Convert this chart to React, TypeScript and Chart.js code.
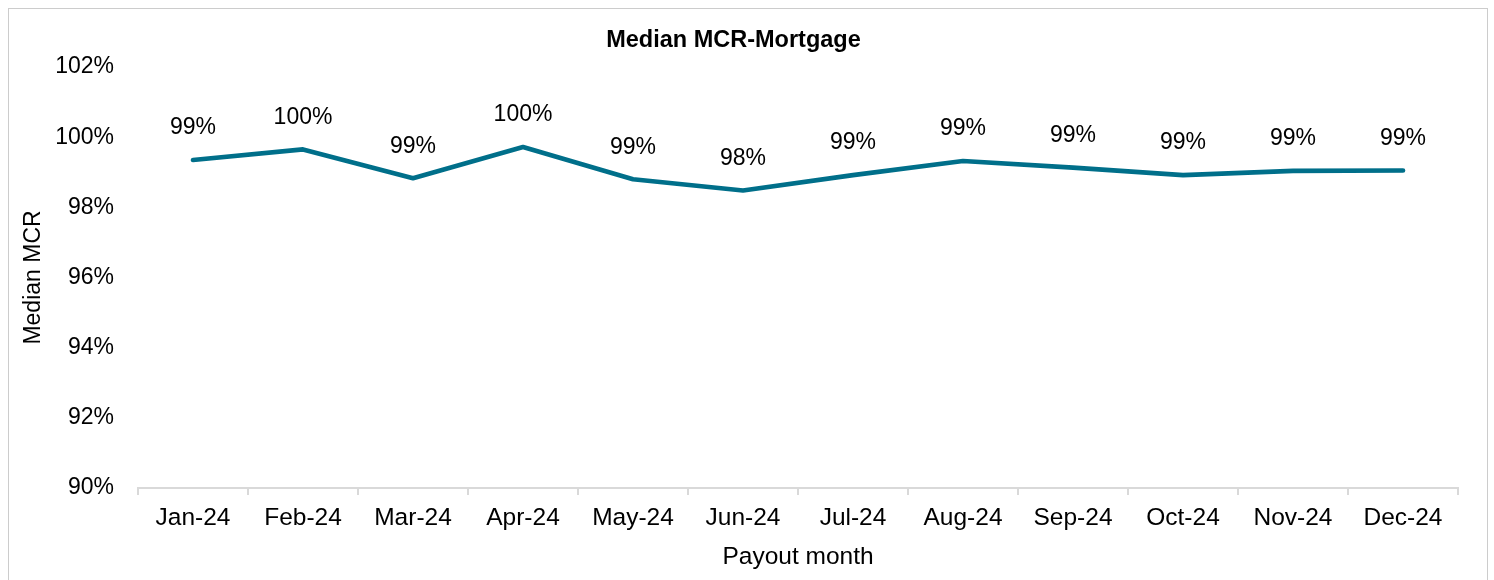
import React, { useEffect, useRef } from "react";
import { Chart, registerables } from "chart.js";

Chart.register(...registerables);

const categories = ["Jan-24", "Feb-24", "Mar-24", "Apr-24", "May-24", "Jun-24", "Jul-24", "Aug-24", "Sep-24", "Oct-24", "Nov-24", "Dec-24"];
const medianMcr = [99.35, 99.65, 98.83, 99.72, 98.8, 98.48, 98.92, 99.32, 99.13, 98.92, 99.04, 99.05];
const yMin = 90;
const yMax = 102;
const yStep = 2;

const FONT = "'Liberation Sans', Arial, sans-serif";
const SIZE = 23;
const XSIZE = 24.5;

const labelPlugin = {
  id: "pointLabels",
  afterDatasetsDraw(chart: any) {
    const ctx = chart.ctx;
    const meta = chart.getDatasetMeta(0);
    const data = chart.data.datasets[0].data as number[];
    ctx.save();
    ctx.font = `${SIZE}px ${FONT}`;
    ctx.fillStyle = "#000";
    ctx.textAlign = "center";
    ctx.textBaseline = "middle";
    meta.data.forEach((pt: any, i: number) => {
      ctx.fillText(Math.round(data[i]) + "%", pt.x, pt.y - 32);
    });
    ctx.restore();
  },
};

export default function App() {
  const ref = useRef<HTMLCanvasElement | null>(null);
  useEffect(() => {
    if (!ref.current) return;
    const chart = new Chart(ref.current, {
      type: "line",
      data: {
        labels: categories,
        datasets: [
          {
            data: medianMcr,
            borderColor: "#006F8A",
            borderWidth: 4.7,
            borderCapStyle: "round",
            borderJoinStyle: "round",
            pointRadius: 0,
            pointHoverRadius: 0,
            fill: false,
            tension: 0,
          },
        ],
      },
      options: {
        responsive: false,
        animation: false,
        layout: { padding: { left: 0, right: 29, top: 0, bottom: 0 } },
        plugins: {
          legend: { display: false },
          tooltip: { enabled: false },
          title: {
            display: true,
            text: "Median MCR-Mortgage",
            color: "#000",
            font: { family: FONT, size: 23.5, weight: "bold" },
            padding: { top: 17, bottom: 12.8 },
          },
        },
        scales: {
          x: {
            offset: true,
            grid: {
              offset: true,
              drawOnChartArea: false,
              drawTicks: true,
              tickLength: 7,
              color: "#d9d9d9",
              lineWidth: 2,
            },
            border: { display: true, color: "#d9d9d9", width: 2 },
            ticks: {
              color: "#000",
              font: { family: FONT, size: XSIZE },
              padding: 9,
              maxRotation: 0,
              autoSkip: false,
            },
            title: {
              display: true,
              text: "Payout month",
              color: "#000",
              font: { family: FONT, size: XSIZE },
              padding: { top: 0, bottom: 8.3 },
            },
            afterFit: (s: any) => {
              s.height = 92;
            },
          },
          y: {
            min: yMin,
            max: yMax,
            grid: { display: false, drawTicks: false },
            border: { display: false },
            ticks: {
              stepSize: yStep,
              color: "#000",
              font: { family: FONT, size: SIZE },
              padding: 24,
              callback: (v: any) => v + "%",
            },
            title: {
              display: true,
              text: "Median MCR",
              color: "#000",
              font: { family: FONT, size: SIZE },
              padding: { top: 10.5, bottom: 0 },
            },
            afterFit: (s: any) => {
              s.width = 129;
            },
          },
        },
      },
      plugins: [labelPlugin],
    });
    return () => chart.destroy();
  }, []);

  return (
    <div
      style={{
        position: "fixed",
        left: 8,
        top: 8,
        width: 1480,
        height: 620,
        boxSizing: "border-box",
        border: "1px solid #cccccc",
        background: "#fff",
      }}
    >
      <canvas ref={ref} width={1478} height={571} style={{ display: "block" }} />
    </div>
  );
}
